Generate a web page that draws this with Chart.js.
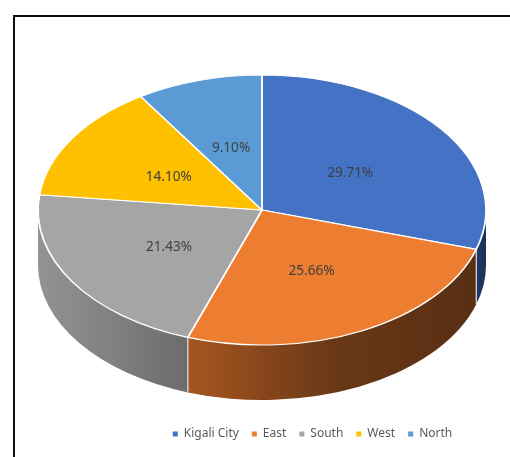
<!DOCTYPE html>
<html>
<head>
<meta charset="utf-8">
<script src="https://cdn.jsdelivr.net/npm/chart.js@4.4.1/dist/chart.umd.min.js"></script>
<style>
  html, body { margin: 0; padding: 0; background: #fff; overflow: hidden; }
  #frame { position: absolute; left: 13px; top: 15px; width: 620px; height: 620px; border: 2px solid #0d0d0d; }
  #wrap { position: absolute; left: 0; top: 0; width: 510px; height: 457px; }
</style>
</head>
<body>
<div id="frame"></div>
<div id="wrap"><canvas id="myChart"></canvas></div>
<script>
// share of each province (percent)
const regions = ["Kigali City", "East", "South", "West", "North"];
const shares = [29.71, 25.66, 21.43, 14.10, 9.10];

const topColors = ["#4472C4", "#ED7D31", "#A5A5A5", "#FFC000", "#5B9BD5"];
// [left, middle, right] shades of the rim for each slice
const rimColors = [
  ["#22396b", "#1f355f", "#1b2f56"],
  ["#a6561f", "#6a3817", "#582e13"],
  ["#939393", "#808080", "#6c6c6c"],
  ["#c79500", "#a88000", "#8f6c00"],
  ["#4a7fb0", "#43739f", "#3c6a96"]
];

// where the tilted disc sits on the canvas
const disc = { cx: 262, cy: 210, rx: 224, ry: 135, depth: 55 };

function toScreen(arc, x, y) {
  const r = arc.outerRadius;
  return {
    x: disc.cx + (x - arc.x) * disc.rx / r,
    y: disc.cy + (y - arc.y) * disc.ry / r
  };
}

const tilt = {
  id: "tilt",
  beforeDatasetsDraw(chart) {
    const ctx = chart.ctx;
    const arcs = chart.getDatasetMeta(0).data;
    const a0 = arcs[0];

    // rim of the disc: only the front half (angles 0..PI) is visible
    arcs.forEach((arc, i) => {
      const s = Math.max(arc.startAngle, 0);
      const e = Math.min(arc.endAngle, Math.PI);
      if (e <= s) return;
      const x1 = disc.cx + disc.rx * Math.cos(s);
      const x2 = disc.cx + disc.rx * Math.cos(e);
      const g = ctx.createLinearGradient(Math.min(x1, x2), 0, Math.max(x1, x2), 0);
      g.addColorStop(0, rimColors[i][0]);
      g.addColorStop(0.5, rimColors[i][1]);
      g.addColorStop(1, rimColors[i][2]);
      ctx.save();
      ctx.beginPath();
      ctx.ellipse(disc.cx, disc.cy, disc.rx, disc.ry, 0, s, e);
      ctx.ellipse(disc.cx, disc.cy + disc.depth, disc.rx, disc.ry, 0, e, s, true);
      ctx.closePath();
      ctx.fillStyle = g;
      ctx.fill();
      ctx.restore();
    });

    // light edges where two rim pieces meet
    arcs.forEach((arc) => {
      const t = arc.endAngle;
      if (t <= 0 || t >= Math.PI) return;
      const x = disc.cx + disc.rx * Math.cos(t);
      const y = disc.cy + disc.ry * Math.sin(t);
      ctx.save();
      ctx.strokeStyle = "rgba(235,235,235,0.9)";
      ctx.lineWidth = 1.2;
      ctx.beginPath();
      ctx.moveTo(x, y);
      ctx.lineTo(x, y + disc.depth);
      ctx.stroke();
      ctx.restore();
    });

    // squash the round pie into the top face
    const r = a0.outerRadius;
    ctx.save();
    ctx.translate(disc.cx, disc.cy);
    ctx.scale(disc.rx / r, disc.ry / r);
    ctx.translate(-a0.x, -a0.y);
  },
  afterDatasetsDraw(chart) {
    const ctx = chart.ctx;
    ctx.restore();

    const arcs = chart.getDatasetMeta(0).data;
    ctx.save();
    ctx.font = "13.6px 'Noto Sans'";
    ctx.fillStyle = "#404040";
    ctx.textAlign = "center";
    ctx.textBaseline = "middle";
    arcs.forEach((arc, i) => {
      const mid = (arc.startAngle + arc.endAngle) / 2;
      const rr = arc.outerRadius * 0.49;
      const p = toScreen(arc, arc.x + rr * Math.cos(mid), arc.y + rr * Math.sin(mid));
      ctx.fillText(shares[i].toFixed(2) + "%", p.x, p.y + 2);
    });
    ctx.restore();
  }
};

const chart = new Chart("myChart", {
  type: "pie",
  data: {
    labels: regions,
    datasets: [{
      data: shares,
      backgroundColor: topColors,
      borderColor: "#ffffff",
      borderWidth: 1.6,
      clip: false
    }]
  },
  options: {
    responsive: true,
    maintainAspectRatio: false,
    animation: false,
    layout: { padding: { left: 115, right: 0, top: 0, bottom: 7 } },
    plugins: {
      tooltip: { enabled: false },
      legend: {
        position: "bottom",
        labels: {
          usePointStyle: true,
          pointStyle: "rect",
          boxWidth: 5,
          boxHeight: 5,
          padding: 13,
          color: "#595959",
          font: { family: "'Noto Sans'", size: 12 },
          generateLabels(c) {
            return Chart.overrides.pie.plugins.legend.labels.generateLabels(c).map(l => {
              l.strokeStyle = l.fillStyle;
              l.lineWidth = 0;
              return l;
            });
          }
        }
      }
    }
  },
  plugins: [tilt]
});
</script>
</body>
</html>
